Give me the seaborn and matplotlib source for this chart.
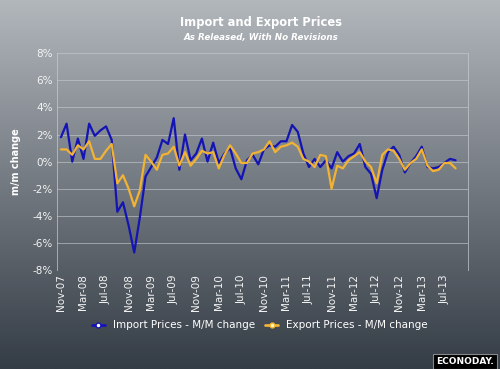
import numpy as np
import pandas as pd
import seaborn as sns
import matplotlib.pyplot as plt
from matplotlib.lines import Line2D

# monthly changes in %, Nov-07 .. Sep-13 (as released)
import_prices = [
    1.8, 2.8, 0.0, 1.7, 0.2, 2.8, 1.9, 2.3, 2.6, 1.6,
    -3.7, -3.0, -4.7, -6.7, -4.1, -1.1, -0.4, 0.3, 1.6, 1.3,
    3.2, -0.6, 2.0, 0.1, 0.6, 1.7, 0.0, 1.4, -0.1, 0.6,
    1.0, -0.5, -1.3, 0.1, 0.5, -0.2, 0.9, 1.2, 1.1, 1.5,
    1.5, 2.7, 2.2, 0.6, -0.4, 0.2, -0.4, 0.1, -0.5, 0.7,
    0.0, 0.4, 0.6, 1.3, -0.4, -0.9, -2.7, -0.6, 0.7, 1.1,
    0.5, -0.8, -0.1, 0.4, 1.1, -0.4, -0.5, -0.4, -0.1, 0.2,
    0.1,
]
export_prices = [
    0.9, 0.9, 0.5, 1.2, 0.9, 1.5, 0.2, 0.2, 0.8, 1.3,
    -1.6, -1.0, -2.0, -3.3, -2.1, 0.5, 0.0, -0.6, 0.5, 0.6,
    1.1, -0.3, 0.7, -0.3, 0.2, 0.8, 0.6, 0.7, -0.5, 0.5,
    1.2, 0.6, -0.1, -0.1, 0.6, 0.7, 0.9, 1.5, 0.7, 1.1,
    1.2, 1.4, 1.1, 0.2, 0.0, -0.4, 0.5, 0.4, -2.0, -0.3,
    -0.5, 0.1, 0.4, 0.7, 0.0, -0.4, -1.6, 0.5, 0.9, 0.8,
    0.2, -0.6, -0.1, 0.2, 0.9, -0.3, -0.7, -0.6, -0.1, -0.1,
    -0.5,
]
months = pd.date_range('2007-11-01', periods=len(import_prices), freq='MS')
tick_step = 4
y_ticks = [-8, -6, -4, -2, 0, 2, 4, 6, 8]

blue = '#1414b4'
gold = '#f2b233'

df = pd.DataFrame({
    'idx': np.arange(len(months)).tolist() * 2,
    'value': import_prices + export_prices,
    'series': ['Import'] * len(months) + ['Export'] * len(months),
})

sns.set_theme(style='white')
plt.rcParams['font.family'] = ['DejaVu Sans']

fig = plt.figure(figsize=(5, 3.69), dpi=100)

# gradient background
bg = fig.add_axes([0, 0, 1, 1], zorder=-10)
top = np.array([178, 183, 188]) / 255
bot = np.array([52, 60, 69]) / 255
t = np.linspace(0, 1, 256)[:, None]
grad = (top[None, :] * (1 - t) + bot[None, :] * t)[:, None, :]
bg.imshow(grad, aspect='auto', extent=[0, 1, 0, 1])
bg.axis('off')

ax = fig.add_axes([0.114, 0.268, 0.822, 0.588])
ax.set_facecolor('none')
sns.lineplot(data=df, x='idx', y='value', hue='series',
             palette={'Import': blue, 'Export': gold},
             hue_order=['Import', 'Export'], linewidth=1.6,
             legend=False, ax=ax)

ax.set_xlim(-0.7, 72.2)
ax.set_ylim(-8, 8)
ax.set_yticks(y_ticks)
ax.set_yticklabels([f'{v}%' for v in y_ticks], color='#f4f4f4', fontsize=7.5)
xt = list(range(0, len(months), tick_step))
ax.set_xticks(xt)
ax.set_xticklabels([months[i].strftime('%b-%y') for i in xt],
                   rotation=90, color='#f4f4f4', fontsize=7.5)
ax.tick_params(length=0, pad=3)
ax.set_xlabel('')
ax.set_ylabel('m/m change', color='white', fontsize=7, fontweight='bold', labelpad=8)
for v in y_ticks:
    ax.axhline(v, color='#c8ccd0', lw=0.7, alpha=0.6, zorder=0)
for side in ['left', 'right']:
    ax.spines[side].set_color('#c8ccd0')
    ax.spines[side].set_alpha(0.7)
    ax.spines[side].set_linewidth(0.7)
for side in ['top', 'bottom']:
    ax.spines[side].set_visible(False)

fig.text(0.522, 0.94, 'Import and Export Prices', ha='center', va='center',
         color='white', fontsize=8.3, fontweight='bold')
fig.text(0.522, 0.898, 'As Released, With No Revisions', ha='center', va='center',
         color='white', fontsize=6.3, fontweight='bold', style='italic')

handles = [
    Line2D([], [], color=blue, lw=2, marker='o', markersize=3.5,
           markerfacecolor='white', markeredgecolor=blue),
    Line2D([], [], color=gold, lw=2, marker='o', markersize=3.5,
           markerfacecolor='#fff6c0', markeredgecolor=gold),
]
fig.legend(handles, ['Import Prices - M/M change', 'Export Prices - M/M change'],
           loc='center', bbox_to_anchor=(0.52, 0.118), ncol=2, frameon=False,
           fontsize=7.5, labelcolor='white', handlelength=1.2, columnspacing=1.0,
           handletextpad=0.8)

fig.text(0.93, 0.02, 'ECONODAY.', ha='center', va='center', color='white',
         fontsize=6.5, fontweight='bold',
         bbox=dict(boxstyle='square,pad=0.3', facecolor='black', edgecolor='#888888', lw=0.8))

fig.savefig('out.png', dpi=100)
